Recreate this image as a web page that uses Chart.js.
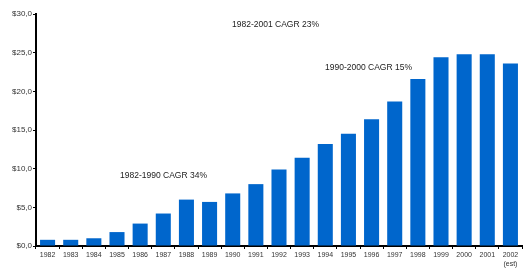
<!DOCTYPE html>
<html>
<head>
<meta charset="utf-8">
<script src="https://cdn.jsdelivr.net/npm/chart.js@4/dist/chart.umd.min.js"></script>
<style>
  html, body { margin: 0; padding: 0; background: #fff; }
  #wrap { position: relative; width: 524px; height: 271px; }
</style>
</head>
<body>
<div id="wrap"><canvas id="chart" width="524" height="271"></canvas></div>
<script>
// years on the x axis (last one is an estimate)
var years = ['1982','1983','1984','1985','1986','1987','1988','1989','1990','1991',
             '1992','1993','1994','1995','1996','1997','1998','1999','2000','2001',
             ['2002','(est)']];

// revenue in $ billions
var revenue = [0.8, 0.8, 1.0, 1.8, 2.9, 4.2, 6.0, 5.7, 6.8, 8.0,
               9.9, 11.4, 13.2, 14.5, 16.4, 18.7, 21.6, 24.4, 24.8, 24.8, 23.6];

// y ticks
var yTicks = [0, 5, 10, 15, 20, 25, 30];

// growth notes: text, x pixel, y pixel
var notes = [
    ['1982-2001 CAGR 23%', 232, 25],
    ['1990-2000 CAGR 15%', 325, 68],
    ['1982-1990 CAGR 34%', 120, 176]
];

var notePlugin = {
    id: 'notes',
    afterDraw: function(chart) {
        var ctx = chart.ctx;
        ctx.save();
        ctx.font = '8.5px "Liberation Sans", Arial, sans-serif';
        ctx.fillStyle = '#222';
        ctx.textBaseline = 'middle';
        ctx.textAlign = 'left';
        notes.forEach(function(n) { ctx.fillText(n[0], n[1], n[2]); });
        ctx.restore();
    }
};

var ctx = document.getElementById('chart').getContext('2d');
new Chart(ctx, {
    type: 'bar',
    data: {
        labels: years,
        datasets: [{
            data: revenue,
            backgroundColor: '#0066CC',
            borderWidth: 0,
            barPercentage: 0.65,
            categoryPercentage: 1.0
        }]
    },
    options: {
        responsive: false,
        animation: false,
        layout: { padding: { top: 14, right: 2, left: 0, bottom: 0 } },
        plugins: { legend: { display: false }, tooltip: { enabled: false } },
        scales: {
            x: {
                offset: true,
                grid: { offset: true, drawOnChartArea: false, drawTicks: true, tickLength: 3, color: '#000', lineWidth: 1 },
                border: { display: true, color: '#000', width: 2 },
                ticks: {
                    autoSkip: false, maxRotation: 0, padding: 2,
                    color: '#333',
                    font: { family: '"Liberation Sans", Arial, sans-serif', size: 7 }
                },
                afterFit: function(s) { s.height = 25; }
            },
            y: {
                min: 0, max: 30,
                afterBuildTicks: function(s) { s.ticks = yTicks.map(function(v) { return { value: v }; }); },
                grid: { drawOnChartArea: false, drawTicks: true, tickLength: 3, color: '#000', lineWidth: 1 },
                border: { display: true, color: '#000', width: 2 },
                ticks: {
                    padding: 1,
                    color: '#333',
                    font: { family: '"Liberation Sans", Arial, sans-serif', size: 8 },
                    callback: function(v) { return '$' + v.toFixed(1).replace('.', ','); }
                },
                afterFit: function(s) { s.width = 36; }
            }
        }
    },
    plugins: [notePlugin]
});
</script>
</body>
</html>
